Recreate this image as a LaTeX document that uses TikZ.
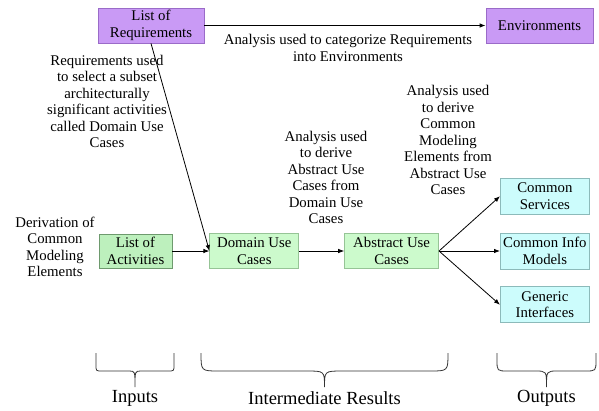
\documentclass[tikz,border=0pt]{standalone}
\usepackage{fontspec}
\setmainfont{Liberation Serif}
\newfontfamily\diagramfont{Liberation Serif}
\usetikzlibrary{arrows.meta,positioning}

\definecolor{reqpurple}{HTML}{C99AF5}
\definecolor{reqborder}{HTML}{9A6BC8}
\definecolor{actgreen}{HTML}{BDF0BD}
\definecolor{actborder}{HTML}{6E9A6E}
\definecolor{usegreen}{HTML}{CCFACC}
\definecolor{useborder}{HTML}{96C496}
\definecolor{outcyan}{HTML}{CCFCFC}
\definecolor{outborder}{HTML}{8CBABA}

\begin{document}
\begin{tikzpicture}[
			x=1pt, y=-1pt,
			font=\diagramfont\fontsize{14.8}{16.5}\selectfont,
			block/.style={rectangle, draw, line width=0.8pt, align=center, inner sep=1pt, minimum height=34pt},
			reqblock/.style={block, fill=reqpurple, draw=reqborder, minimum height=35pt},
			actblock/.style={block, fill=actgreen, draw=actborder},
			useblock/.style={block, fill=usegreen, draw=useborder, minimum height=35pt},
			outblock/.style={block, fill=outcyan, draw=outborder, minimum width=89pt, minimum height=36pt},
			note/.style={align=center, inner sep=0pt},
			line/.style={draw, line width=0.8pt, -{Latex[length=6pt,width=4.5pt]}},
			brace/.style={draw=black!80, line width=0.8pt}
		]
		\useasboundingbox (0,0) rectangle (599,410);

		% Requirements and environments along the top
		\node (req) [reqblock, minimum width=106pt] at (151,25.5) {List of\\Requirements};
		\node (env) [reqblock, minimum width=107pt] at (539.5,25.5) {Environments};

		% Main chain of use cases
		\node (acts) [actblock, minimum width=73pt] at (135.5,251) {List of\\Activities};
		\node (domain) [useblock, minimum width=89pt, right=37pt of acts] {Domain Use\\Cases};
		\node (abstract) [useblock, minimum width=94pt, right=45pt of domain] {Abstract Use\\Cases};

		% Common modeling elements
		\node (info) [outblock, right=61pt of abstract] {Common Info\\Models};
		\node (services) [outblock, above=18pt of info] {Common\\Services};
		\node (generic) [outblock, below=17pt of info] {Generic\\Interfaces};

		% Explanations
		\node (catnote) [note] at (348,48) {Analysis used to categorize Requirements\\into Environments};
		\node (reqnote) [note] at (107,101.5) {Requirements used\\to select a subset\\architecturally\\significant activities\\called Domain Use\\Cases};
		\node (derivnote) [note] at (55,247) {Derivation of\\Common\\Modeling\\Elements};
		\node (abstractnote) [note] at (326,177.5) {Analysis used\\to derive\\Abstract Use\\Cases from\\Domain Use\\Cases};
		\node (commonnote) [note] at (448,140) {Analysis used\\to derive\\Common\\Modeling\\Elements from\\Abstract Use\\Cases};

		% Lines
		\draw [line] (req.east) -- (env.west);
		\draw [line] (req.south) -- (domain.west);
		\draw [line] (acts) -- (domain);
		\draw [line] (domain) -- (abstract);
		\draw [line] (abstract.east) -- (services.west);
		\draw [line] (abstract.east) -- (info.west);
		\draw [line] (abstract.east) -- (generic.west);

		% Braces grouping the stages
		\foreach \a/\b/\r/\nm/\txt in {96/174/6/inputs/Inputs, 201/448/18/results/Intermediate Results, 497/596/11/outputs/Outputs}{
			\draw [brace] (\a,353) -- (\a,371-\r) .. controls (\a,371) .. (\a+\r,371)
				-- ({(\a+\b)/2-\r},371) .. controls ({(\a+\b)/2},371) .. ({(\a+\b)/2},387)
				.. controls ({(\a+\b)/2},371) .. ({(\a+\b)/2+\r},371)
				-- (\b-\r,371) .. controls (\b,371) .. (\b,371-\r) -- (\b,353);
			\node (\nm) [font=\diagramfont\fontsize{18.5}{22}\selectfont] at ({(\a+\b)/2},398) {\txt};
		}
	\end{tikzpicture}
\end{document}
